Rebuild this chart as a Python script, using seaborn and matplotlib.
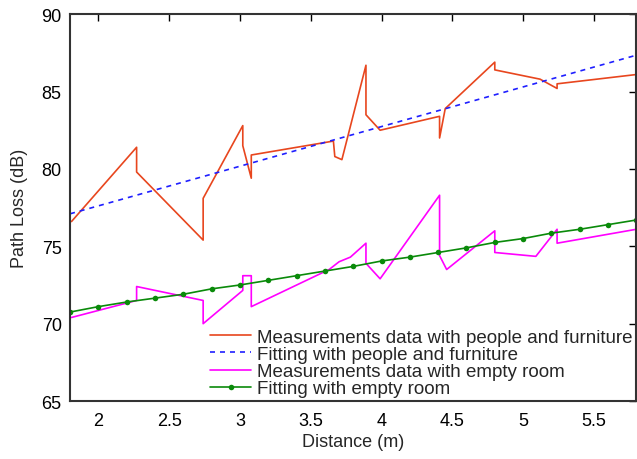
import numpy as np
import pandas as pd
import seaborn as sns
import matplotlib.pyplot as plt

# measurements with people and furniture
dist_pf = [1.81, 2.27, 2.27, 2.74, 2.74, 3.02, 3.02, 3.08, 3.08, 3.66, 3.67, 3.72,
           3.89, 3.89, 3.99, 4.41, 4.41, 4.45, 4.80, 4.80, 5.12, 5.24, 5.24, 5.80]
pl_pf = [76.6, 81.4, 79.8, 75.4, 78.1, 82.8, 81.5, 79.4, 80.9, 81.8, 80.8, 80.6,
         86.7, 83.5, 82.5, 83.4, 82.0, 83.9, 86.9, 86.4, 85.8, 85.2, 85.5, 86.1]

# fit with people and furniture
dist_fit_pf = [1.8, 5.8]
pl_fit_pf = [77.1, 87.35]

# measurements with empty room
dist_er = [1.81, 2.27, 2.27, 2.74, 2.74, 3.02, 3.02, 3.08, 3.08, 3.63, 3.70, 3.78,
           3.89, 3.89, 3.99, 4.41, 4.41, 4.46, 4.80, 4.80, 5.09, 5.24, 5.24, 5.80]
pl_er = [70.4, 71.5, 72.4, 71.5, 70.0, 72.15, 73.1, 73.1, 71.1, 73.5, 74.0, 74.3,
         75.2, 73.9, 72.9, 78.3, 74.4, 73.5, 76.0, 74.6, 74.35, 76.1, 75.2, 76.1]

# fit with empty room (markers every 0.2 m)
dist_fit_er = [1.8, 2.0, 2.2, 2.4, 2.6, 2.8, 3.0, 3.2, 3.4, 3.6, 3.8,
               4.0, 4.2, 4.4, 4.6, 4.8, 5.0, 5.2, 5.4, 5.6, 5.8]
pl_fit_er = [70.75, 71.1, 71.4, 71.65, 71.9, 72.25, 72.5, 72.8, 73.1, 73.4, 73.7,
             74.05, 74.3, 74.6, 74.9, 75.25, 75.5, 75.85, 76.1, 76.4, 76.7]

sns.set_style("white")
plt.rcParams['font.family'] = ['Liberation Sans', 'DejaVu Sans']

fig = plt.figure(figsize=(6.37, 4.60), dpi=100)
ax = fig.add_axes([0.11, 0.126, 0.889, 0.841])

sns.lineplot(x=dist_pf, y=pl_pf, estimator=None, sort=False, color='#e8461e',
             lw=1.2, label="Measurements data with people and furniture", ax=ax)
sns.lineplot(x=dist_fit_pf, y=pl_fit_pf, estimator=None, sort=False, color='#1f1fff',
             lw=1.2, linestyle=(0, (3, 3)), label="Fitting with people and furniture", ax=ax)
sns.lineplot(x=dist_er, y=pl_er, estimator=None, sort=False, color='#ff00ff',
             lw=1.2, label="Measurements data with empty room", ax=ax)
sns.lineplot(x=dist_fit_er, y=pl_fit_er, estimator=None, sort=False, color='#0a8a0a',
             lw=1.2, marker='o', markersize=4, markeredgewidth=0,
             label="Fitting with empty room", ax=ax)

ax.set_xlim(1.8, 5.8)
ax.set_ylim(65, 90)
ax.set_xticks([2, 2.5, 3, 3.5, 4, 4.5, 5, 5.5])
ax.set_xticklabels(["2", "2.5", "3", "3.5", "4", "4.5", "5", "5.5"])
ax.set_yticks([65, 70, 75, 80, 85, 90])
ax.tick_params(direction='in', length=5, width=1, top=True, right=True,
               labelsize=13, colors='black')
ax.tick_params(axis='x', pad=8)
ax.tick_params(axis='y', pad=6)
for sp in ax.spines.values():
    sp.set_color('#333333')
    sp.set_linewidth(1.5)
ax.set_xlabel("Distance (m)", fontsize=13, labelpad=3)
ax.set_ylabel("Path Loss (dB)", fontsize=13, labelpad=10)

ax.legend(loc='lower right', bbox_to_anchor=(1.0, 0.0), frameon=False,
          fontsize=13.5, handlelength=2.2, handletextpad=0.3, labelspacing=0.0,
          borderaxespad=0.1, borderpad=0.1)

fig.savefig("out.png", dpi=100)
